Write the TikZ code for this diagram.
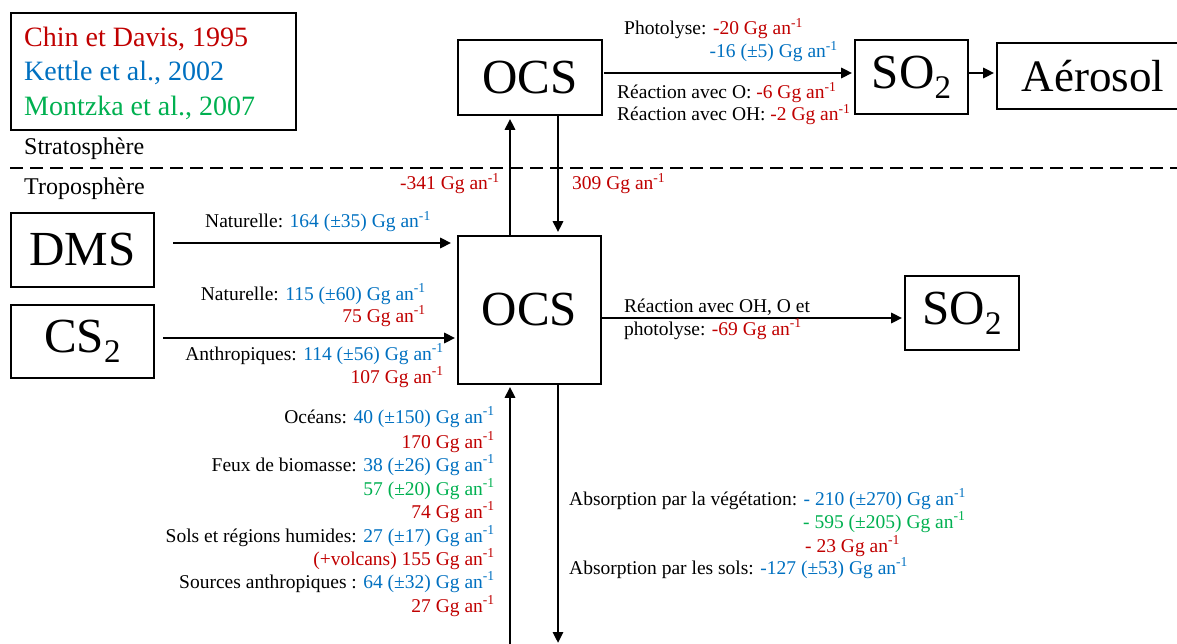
\documentclass[tikz,border=0pt]{standalone}
\usepackage{fontspec}
\setmainfont{Liberation Serif}
\usetikzlibrary{arrows.meta}
\definecolor{cr}{HTML}{C00000}
\definecolor{cb}{HTML}{0070C0}
\definecolor{cg}{HTML}{00B050}
\newcommand{\gga}{Gg an\textsuperscript{-1}}
\newcommand{\subtwo}{\raisebox{-0.21em}{\fontsize{33}{33}\selectfont 2}}
\tikzset{
  box/.style={draw, line width=1.6pt, inner sep=0pt, font=\fontsize{49}{50}\selectfont},
  arr/.style={line width=2.7pt, -{Triangle[length=11pt,width=10pt]}},
  lbl/.style={inner sep=0pt, font=\fontsize{19.5}{23.5}\selectfont},
  leg/.style={inner sep=0pt, font=\fontsize{28}{34}\selectfont},
  layer/.style={inner sep=0pt, font=\fontsize{24}{28}\selectfont},
  sep/.style={line width=2.4pt, dash pattern=on 13pt off 7pt},
}
\begin{document}
\begin{tikzpicture}[x=1pt,y=-1pt]
\useasboundingbox (0,0) rectangle (1177,644);
% legend
\node[draw, line width=1.3pt, minimum width=285pt, minimum height=117pt, inner sep=0pt] (legend) at (153.5,71.5) {};
\node[leg, anchor=base west, text=cr] (l1) at (24,47) {Chin et Davis, 1995};
\node[leg, anchor=base west, text=cb] (l2) at (24,81) {Kettle et al., 2002};
\node[leg, anchor=base west, text=cg] (l3) at (24,116) {Montzka et al., 2007};
% layers
\node[layer, anchor=base west] (strat) at (24,155) {Stratosphère};
\node[layer, anchor=base west] (tropo) at (24,195) {Troposphère};
\draw[sep] (10,168) -- (1177,168);
% boxes
\node[box, minimum width=144pt, minimum height=75pt] (ocsT) at (530,77.5) {OCS};
\node[box, minimum width=113pt, minimum height=74pt] (so2T) at (911.5,77) {SO\subtwo};
\node[box, minimum width=192pt, minimum height=66pt, font=\fontsize{45}{46}\selectfont] (aer) at (1093,76) {Aérosol};
\node[box, minimum width=143pt, minimum height=74pt] (dms) at (82.5,250) {DMS};
\node[box, minimum width=143pt, minimum height=73pt] (cs2) at (82.5,341.5) {CS\subtwo};
\node[box, minimum width=143pt, minimum height=148pt] (ocsB) at (529.5,310) {OCS};
\node[box, minimum width=114pt, minimum height=74pt] (so2R) at (962,313) {SO\subtwo};
% arrows
\coordinate (tA) at (604,73);
\draw[arr, shorten >=2pt] (tA) -- (tA -| so2T.west);
\coordinate (tB) at (968,73);
\draw[arr, shorten >=2pt] (tB) -- (tB -| aer.west);
\coordinate (upX) at (510,0);
\coordinate (dnX) at (558,0);
\draw[arr, shorten >=3pt] (ocsB.north -| upX) -- (ocsT.south -| upX);
\draw[arr, shorten >=3pt] (ocsT.south -| dnX) -- (ocsB.north -| dnX);
\coordinate (dmsA) at (173,243);
\draw[arr, shorten >=6pt] (dmsA) -- (dmsA -| ocsB.west);
\coordinate (cs2A) at (163,338);
\draw[arr, shorten >=2pt] (cs2A) -- (cs2A -| ocsB.west);
\coordinate (rA) at (601,318);
\draw[arr, shorten >=2pt] (rA) -- (rA -| so2R.west);
\coordinate (botL) at (510,646);
\draw[arr, shorten >=2pt] (botL) -- (ocsB.south -| botL);
\coordinate (botR) at (558,643);
\draw[arr] (ocsB.south -| botR) -- (botR);
% top labels
\node[lbl, anchor=base west] (t1) at (624,35) {Photolyse: \textcolor{cr}{-20 \gga}};
\node[lbl, anchor=base east, text=cb] (t2) at (838,58) {-16 (±5) \gga};
\node[lbl, anchor=base west] (t3) at (617,99) {Réaction avec O: \textcolor{cr}{-6 \gga}};
\node[lbl, anchor=base west] (t4) at (617,121) {Réaction avec OH: \textcolor{cr}{-2 \gga}};
\node[lbl, anchor=base east, text=cr] (v1) at (500,190) {-341 \gga};
\node[lbl, anchor=base west, text=cr] (v2) at (572,190) {309 \gga};
% left labels
\node[lbl, anchor=base west] (d1) at (205,228) {Naturelle: \textcolor{cb}{164 (±35) \gga}};
\node[lbl, anchor=base east] (c1) at (426,300) {Naturelle: \textcolor{cb}{115 (±60) \gga}};
\node[lbl, anchor=base east, text=cr] (c2) at (426,322) {75 \gga};
\node[lbl, anchor=base east] (c3) at (444,360) {Anthropiques: \textcolor{cb}{114 (±56) \gga}};
\node[lbl, anchor=base east, text=cr] (c4) at (444,383) {107 \gga};
% right label
\node[lbl, anchor=base west] (r1) at (624,312) {Réaction avec OH, O et};
\node[lbl, anchor=base west] (r2) at (624,335) {photolyse: \textcolor{cr}{-69 \gga}};
% bottom-left sources
\node[lbl, anchor=base east] (s1) at (495,423) {Océans: \textcolor{cb}{40 (±150) \gga}};
\node[lbl, anchor=base east, text=cr] (s2) at (495,448) {170 \gga};
\node[lbl, anchor=base east] (s3) at (495,471) {Feux de biomasse: \textcolor{cb}{38 (±26) \gga}};
\node[lbl, anchor=base east, text=cg] (s4) at (495,495) {57 (±20) \gga};
\node[lbl, anchor=base east, text=cr] (s5) at (495,518) {74 \gga};
\node[lbl, anchor=base east] (s6) at (495,542) {Sols et régions humides: \textcolor{cb}{27 (±17) \gga}};
\node[lbl, anchor=base east, text=cr] (s7) at (495,565) {(+volcans) 155 \gga};
\node[lbl, anchor=base east] (s8) at (495,588) {Sources anthropiques : \textcolor{cb}{64 (±32) \gga}};
\node[lbl, anchor=base east, text=cr] (s9) at (495,612) {27 \gga};
% bottom-right sinks
\node[lbl, anchor=base west] (k1) at (569,505) {Absorption par la végétation: \textcolor{cb}{- 210 (±270) \gga}};
\node[lbl, anchor=base west, text=cg] (k2) at (803,528) {- 595 (±205) \gga};
\node[lbl, anchor=base west, text=cr] (k3) at (805,552) {- 23 \gga};
\node[lbl, anchor=base west] (k4) at (569,574) {Absorption par les sols: \textcolor{cb}{-127 (±53) \gga}};
\end{tikzpicture}
\end{document}
